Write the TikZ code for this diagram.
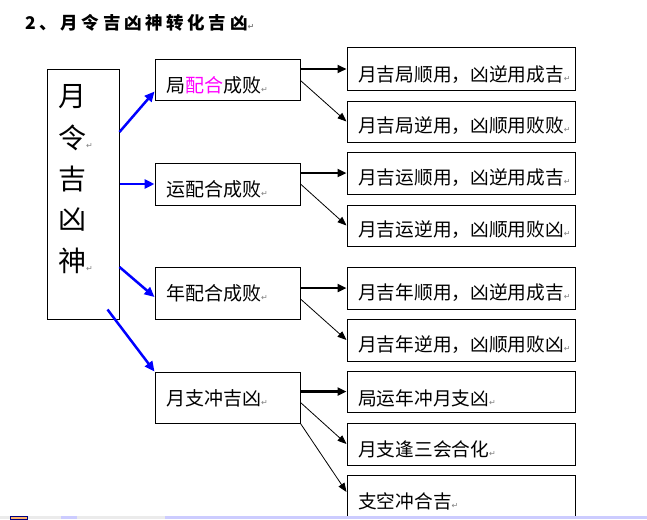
\documentclass[tikz,border=0pt]{standalone}
\usepackage{fontspec}
\setmainfont{Noto Sans CJK SC}
\newfontfamily\marksym{DejaVu Sans}
\newfontfamily\titlefont[LetterSpace=21]{Noto Sans CJK SC}
\usetikzlibrary{arrows.meta}
\definecolor{wordblue}{RGB}{0,0,255}
\definecolor{wordpink}{RGB}{255,0,255}
\newcommand{\pmark}{{\color{black!50}\fontsize{8}{8}\marksym ↵}}
\tikzset{
  box/.style={rectangle, draw=black, line width=1pt, inner sep=0pt, fill=white},
  mainbox/.style={box, minimum width=72pt, minimum height=250pt},
  midbox/.style={box, minimum width=145pt, minimum height=42pt},
  rbox/.style={box, minimum width=228pt, minimum height=42pt},
  bigtxt/.style={anchor=west, inner sep=0pt, font=\fontsize{28}{28}\selectfont},
  midtxt/.style={anchor=west, inner sep=0pt, font=\fontsize{19}{19}\selectfont},
  rtxt/.style={anchor=west, inner sep=0pt, font=\fontsize{18.7}{19}\selectfont},
  bluearrow/.style={draw=wordblue, line width=2.5pt, -{Triangle[length=10pt,width=9pt]}},
  thickarrow/.style={line width=2.5pt, -{Triangle[length=9pt,width=8pt]}},
  thinarrow/.style={line width=0.8pt, -{Triangle[length=9pt,width=7pt]}}
}
\begin{document}
\begin{tikzpicture}[x=1pt,y=-1pt]
  \fill[white] (0,0) rectangle (647,519);
  \useasboundingbox (0,0) rectangle (647,519);

  % title
  \node (title) [anchor=west, inner sep=0pt, font=\fontsize{17.5}{17.5}\titlefont\bfseries] at (25,23) {2、月令吉凶神转化吉凶\pmark};

  % boxes
  \node (main) [mainbox] at (83,194) {};
  \node (m1) [midbox, minimum height=41pt] at (227.5,79.5) {};
  \node (m2) [midbox] at (227.5,184) {};
  \node (m3) [midbox, minimum height=52pt] at (227.5,293) {};
  \node (m4) [midbox, minimum height=51pt] at (227.5,397.5) {};

  \node (r1) [rbox] at (461,69) {};
  \node (r2) [rbox, minimum height=41pt] at (461,121.5) {};
  \node (r3) [rbox] at (461,173) {};
  \node (r4) [rbox, minimum height=41pt] at (461,225.5) {};
  \node (r5) [rbox] at (461,288) {};
  \node (r6) [rbox] at (461,340) {};
  \node (r7) [rbox, minimum height=41pt] at (461,391.5) {};
  \node (r8) [rbox] at (461,444) {};
  \node (r9) [rbox] at (461,496) {};

  % texts
  \foreach \ch [count=\i] in {月,令\pmark,吉,凶,神\pmark}
    \node (c\i) [bigtxt] at (58,{97+41*(\i-1)}) {\ch};

  \node (t1) [midtxt] at (166,85) {局{\color{wordpink}配合}成败\pmark};
  \node (t2) [midtxt] at (166,189) {运配合成败\pmark};
  \node (t3) [midtxt] at (166,293) {年配合成败\pmark};
  \node (t4) [midtxt] at (166,398) {月支冲吉凶\pmark};

  \node (s1) [rtxt] at (358,75) {月吉局顺用，凶逆用成吉\pmark};
  \node (s2) [rtxt] at (358,126) {月吉局逆用，凶顺用败败\pmark};
  \node (s3) [rtxt] at (358,178) {月吉运顺用，凶逆用成吉\pmark};
  \node (s4) [rtxt] at (358,230) {月吉运逆用，凶顺用败凶\pmark};
  \node (s5) [rtxt] at (358,293) {月吉年顺用，凶逆用成吉\pmark};
  \node (s6) [rtxt] at (358,345) {月吉年逆用，凶顺用败凶\pmark};
  \node (s7) [rtxt] at (358,398) {局运年冲月支凶\pmark};
  \node (s8) [rtxt] at (358,449) {月支逢三会合化\pmark};
  \node (s9) [rtxt] at (358,501) {支空冲合吉\pmark};

  % blue arrows
  \draw [bluearrow] ([yshift=62pt]main.east) -- ([yshift=-12pt]m1.west);
  \draw [bluearrow] ([yshift=10pt]main.east) -- (m2.west);
  \draw [bluearrow] ([yshift=-73pt]main.east) -- ([yshift=-4pt]m3.west);
  \draw [bluearrow] ([xshift=-12pt,yshift=10pt]main.south east) -- (m4.north west);

  % black arrows
  \draw [thickarrow] (m1.east |- r1.west) -- (r1.west);
  \draw [thinarrow] ([yshift=-1pt]m1.east) -- (r2.west);
  \draw [thickarrow] (m2.east |- r3.west) -- (r3.west);
  \draw [thinarrow] (m2.east) -- (r4.west);
  \draw [thickarrow] (m3.east |- r5.west) -- (r5.west);
  \draw [thinarrow] ([yshift=-6pt]m3.east) -- (r6.west);
  \draw [thickarrow] (m4.east |- r7.west) -- (r7.west);
  \draw [thinarrow] ([yshift=-5pt]m4.east) -- (r8.west);
  \draw [thinarrow] (m4.south east) -- ([yshift=4pt]r9.west);

  % status bar
  \fill[black!8] (0,516) rectangle (647,519);
  \fill[blue!20] (61,516) rectangle (77,519);
  \fill[blue!20] (165,516) rectangle (647,519);
  \filldraw[fill=orange!60, draw=blue!50!black] (10,516) rectangle (27,519);
\end{tikzpicture}
\end{document}
